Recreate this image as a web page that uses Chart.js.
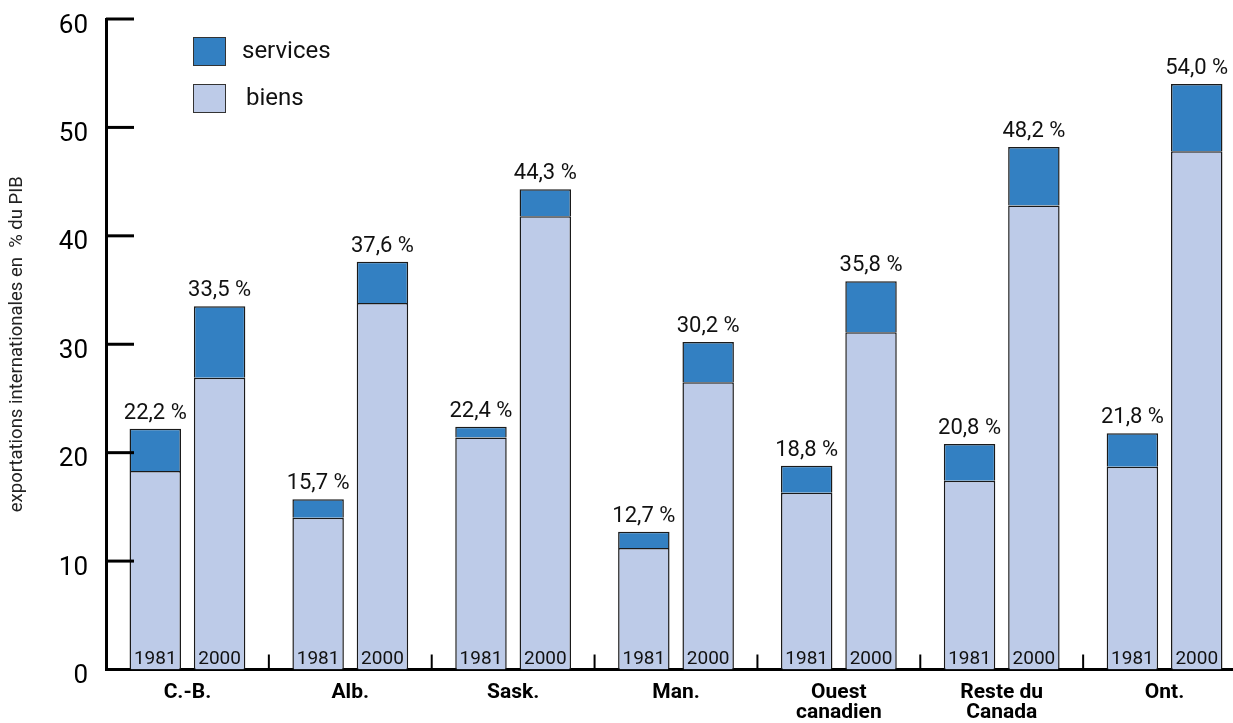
<!DOCTYPE html>
<html>
<head>
<meta charset="utf-8">
<script src="https://cdn.jsdelivr.net/npm/chart.js@4.4.1/dist/chart.umd.min.js"></script>
<style>
  html, body { margin: 0; padding: 0; background: #fff; overflow: hidden; }
  #wrap { position: absolute; left: 0; top: 0; width: 1260px; height: 723px; }
</style>
</head>
<body>
<div id="wrap"><canvas id="exportChart" width="1260" height="723"></canvas></div>
<script>
// Data
const categories = ['C.-B.', 'Alb.', 'Sask.', 'Man.', ['Ouest', 'canadien'], ['Reste du', 'Canada'], 'Ont.'];
const years = ['1981', '2000'];
const biens1981 = [18.3, 14.0, 21.4, 11.2, 16.3, 17.4, 18.7];
const services1981 = [3.9, 1.7, 1.0, 1.5, 2.5, 3.4, 3.1];
const biens2000 = [26.9, 33.8, 41.8, 26.5, 31.1, 42.8, 47.8];
const services2000 = [6.6, 3.8, 2.5, 3.7, 4.7, 5.4, 6.2];
const yTitle = 'exportations internationales en  % du PIB';

const colBiens = '#bdcbe8';
const colServices = '#3380c2';
const edge = '#1a1a1a';

Chart.defaults.font.family = 'Roboto, "Liberation Sans", sans-serif';
Chart.defaults.color = '#111';

function fmtTotal(v) {
  return v.toFixed(1).replace('.', ',') + ' %';
}

// inner ticks, separators, labels in/above bars, legend
const decorations = {
  id: 'decorations',
  afterDatasetsDraw(chart) {
    const ctx = chart.ctx;
    const x = chart.scales.x;
    const y = chart.scales.y;
    const area = chart.chartArea;
    ctx.save();

    // y tick marks pointing into the plot
    ctx.strokeStyle = '#000';
    ctx.lineWidth = 3;
    y.ticks.forEach(t => {
      if (t.value === 0) return;
      const py = y.getPixelForValue(t.value);
      ctx.beginPath();
      ctx.moveTo(area.left, py);
      ctx.lineTo(area.left + 28, py);
      ctx.stroke();
    });

    // small separators between provinces
    ctx.lineWidth = 2;
    for (let i = 0; i < categories.length - 1; i++) {
      const px = (x.getPixelForValue(i) + x.getPixelForValue(i + 1)) / 2;
      ctx.beginPath();
      ctx.moveTo(px, area.bottom - 15);
      ctx.lineTo(px, area.bottom);
      ctx.stroke();
    }

    // year inside each bar, total above it
    const pairs = [[0, 1, biens1981, services1981, years[0]], [2, 3, biens2000, services2000, years[1]]];
    ctx.fillStyle = '#111';
    ctx.textAlign = 'center';
    ctx.textBaseline = 'alphabetic';
    pairs.forEach(([bi, si, b, s, yr]) => {
      const metaB = chart.getDatasetMeta(bi);
      const metaS = chart.getDatasetMeta(si);
      metaB.data.forEach((bar, i) => {
        ctx.font = '19px Roboto, "Liberation Sans", sans-serif';
        ctx.fillText(yr, bar.x, area.bottom - 6);
        const top = metaS.data[i];
        ctx.font = '22px Roboto, "Liberation Sans", sans-serif';
        ctx.fillText(fmtTotal(b[i] + s[i]), top.x, top.y - 10);
      });
    });

    // legend
    const items = [['services', colServices, 37, 242], ['biens', colBiens, 84, 246]];
    ctx.textAlign = 'left';
    ctx.textBaseline = 'middle';
    ctx.font = '24px Roboto, "Liberation Sans", sans-serif';
    items.forEach(([label, col, top, tx]) => {
      ctx.fillStyle = col;
      ctx.fillRect(193, top, 33, 29);
      ctx.strokeStyle = '#333';
      ctx.lineWidth = 1;
      ctx.strokeRect(193.5, top + 0.5, 32, 28);
      ctx.fillStyle = '#111';
      ctx.fillText(label, tx, top + 15);
    });

    ctx.restore();
  }
};

const barStyle = {
  borderColor: edge,
  borderWidth: 1.5,
  borderSkipped: 'start',
  categoryPercentage: 0.79,
  barPercentage: 0.8
};

new Chart(document.getElementById('exportChart').getContext('2d'), {
  type: 'bar',
  data: {
    labels: categories,
    datasets: [
      Object.assign({ label: 'biens', data: biens1981, backgroundColor: colBiens, stack: years[0] }, barStyle),
      Object.assign({ label: 'services', data: services1981, backgroundColor: colServices, stack: years[0] }, barStyle),
      Object.assign({ label: 'biens', data: biens2000, backgroundColor: colBiens, stack: years[1] }, barStyle),
      Object.assign({ label: 'services', data: services2000, backgroundColor: colServices, stack: years[1] }, barStyle)
    ]
  },
  options: {
    responsive: false,
    animation: false,
    devicePixelRatio: 1,
    layout: { padding: { left: 6, right: 14, top: 19, bottom: 0 } },
    plugins: {
      legend: { display: false },
      tooltip: { enabled: false }
    },
    scales: {
      x: {
        stacked: true,
        offset: true,
        grid: { display: false, drawTicks: false },
        border: { display: true, color: '#000', width: 3 },
        ticks: {
          autoSkip: false,
          maxRotation: 0,
          padding: 13,
          color: '#000',
          font: { size: 21, weight: 'bold', lineHeight: 0.97 }
        },
        afterFit(scale) { scale.height = 53.5; }
      },
      y: {
        stacked: true,
        min: 0,
        max: 60,
        grid: { display: false, drawTicks: false },
        border: { display: true, color: '#000', width: 3 },
        ticks: {
          stepSize: 10,
          padding: 18,
          labelOffset: 7,
          color: '#000',
          font: { size: 26 }
        },
        title: {
          display: true,
          text: yTitle,
          color: '#222',
          padding: { top: 0, bottom: 0 },
          font: { size: 18.5 }
        },
        afterFit(scale) {
          scale.width = 100;
          scale.paddingTop = 0;
          scale.paddingBottom = 0;
        }
      }
    }
  },
  plugins: [decorations]
});
</script>
</body>
</html>
